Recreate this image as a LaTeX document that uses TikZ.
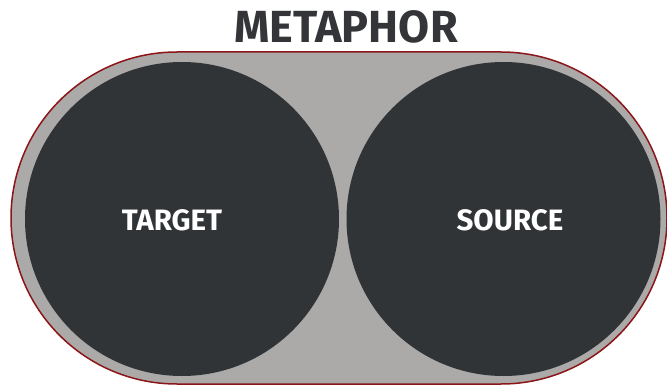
\documentclass[tikz,border=0pt]{standalone}
\usepackage{fontspec}
\setmainfont{Fira Sans}
\usepackage{tikz}
\usetikzlibrary{
        positioning,
        shapes.misc
    }
\definecolor{frame}{HTML}{ABAAA8}
\definecolor{rim}{HTML}{8B1518}
\definecolor{disc}{HTML}{313437}
\definecolor{heading}{HTML}{333538}
\tikzset{
    concept/.style={circle, fill=disc, inner sep=0pt, outer sep=0pt,
        minimum size=314pt},
    conceptname/.style={anchor=base, inner sep=0pt, text=white,
        font=\bfseries\fontsize{29.5}{29.5}\selectfont},
    holder/.style={rounded rectangle, fill=frame, draw=rim, line width=1.5pt,
        inner sep=0pt, outer sep=0pt, minimum width=656pt, minimum height=332pt}
}

\begin{document}
\begin{tikzpicture}[x=1pt,y=-1pt]
    \useasboundingbox (0,0) rectangle (667,385);
        \node[holder] (metaphor) at (339,218) {};
        \node[concept] (target) at (182,219) {};
        \node[concept] (source) at (503.5,219) {};
        \node[conceptname] (targetname) at ([xshift=-10pt,yshift=-11pt]target.center) {TARGET};
        \node[conceptname] (sourcename) at ([xshift=6.5pt,yshift=-11pt]source.center) {SOURCE};
        \node[anchor=base, text=heading, inner sep=0pt,
              font=\bfseries\fontsize{45}{45}\selectfont] (title) at (346,43) {METAPHOR};
\end{tikzpicture}
\end{document}
